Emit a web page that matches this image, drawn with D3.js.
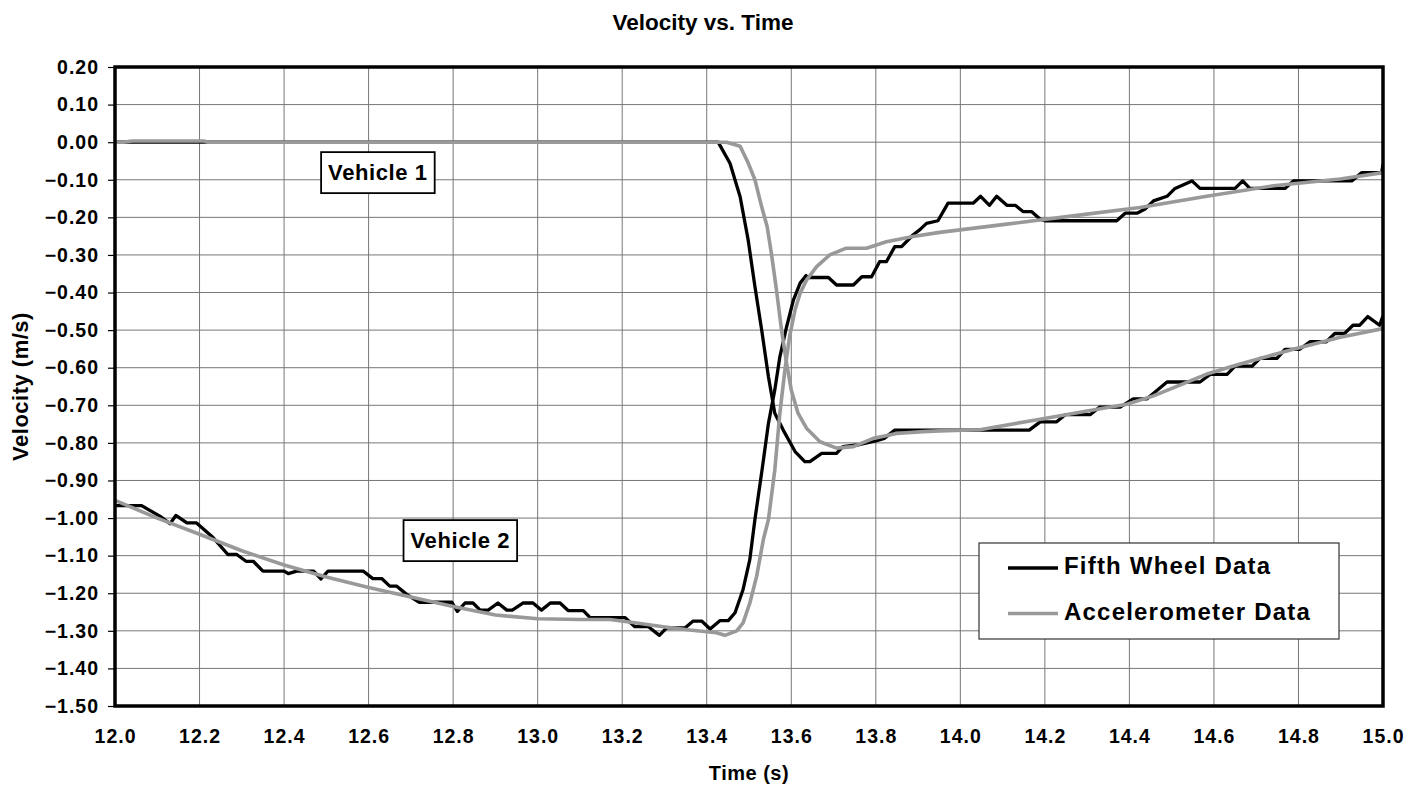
<!DOCTYPE html>
<head>
  <meta charset="utf-8">
  <title>Velocity vs. Time</title>
  <style>
    body { margin: 0; background: #fff; }
    text { font-family: "Liberation Sans", Arial, sans-serif; font-weight: bold; fill: #000; }
  </style>
</head>
<body>
<div id="chart"></div>
<script src="https://d3js.org/d3.v7.min.js"></script>
<script>
// time (s), velocity (m/s)
var fifthWheel1 = [
  [12.0, 0], [13.427, 0], [13.455, -0.056], [13.479, -0.145], [13.498, -0.26], [13.514, -0.384],
  [13.53, -0.50], [13.546, -0.624], [13.561, -0.721], [13.581, -0.766], [13.609, -0.823],
  [13.632, -0.85], [13.644, -0.85], [13.672, -0.828], [13.707, -0.828], [13.722, -0.81],
  [13.76, -0.805], [13.80, -0.795], [13.82, -0.788], [13.845, -0.766], [14.163, -0.766],
  [14.189, -0.744], [14.228, -0.744], [14.248, -0.725], [14.307, -0.725], [14.329, -0.705],
  [14.378, -0.705], [14.409, -0.683], [14.441, -0.683], [14.489, -0.638], [14.567, -0.638],
  [14.591, -0.618], [14.631, -0.618], [14.65, -0.596], [14.69, -0.596], [14.709, -0.575],
  [14.749, -0.575], [14.768, -0.551], [14.803, -0.551], [14.827, -0.531], [14.866, -0.531],
  [14.886, -0.509], [14.909, -0.509], [14.929, -0.487], [14.945, -0.487], [14.964, -0.464],
  [14.992, -0.487], [15.0, -0.462]
];
var fifthWheel2 = [
  [12.0, -0.967], [12.063, -0.967], [12.106, -0.995], [12.13, -1.015], [12.144, -0.993],
  [12.17, -1.013], [12.193, -1.013], [12.232, -1.052], [12.267, -1.097], [12.288, -1.097],
  [12.31, -1.115], [12.327, -1.115], [12.35, -1.141], [12.40, -1.141], [12.41, -1.148],
  [12.43, -1.141], [12.47, -1.141], [12.487, -1.162], [12.504, -1.141], [12.587, -1.141],
  [12.61, -1.161], [12.631, -1.161], [12.65, -1.181], [12.666, -1.181], [12.69, -1.203],
  [12.72, -1.224], [12.797, -1.224], [12.81, -1.248], [12.828, -1.226], [12.847, -1.226],
  [12.864, -1.245], [12.883, -1.245], [12.906, -1.226], [12.927, -1.245], [12.94, -1.245],
  [12.965, -1.226], [12.989, -1.226], [13.009, -1.245], [13.03, -1.226], [13.053, -1.226],
  [13.072, -1.246], [13.108, -1.246], [13.124, -1.265], [13.207, -1.265], [13.23, -1.289],
  [13.262, -1.289], [13.288, -1.312], [13.305, -1.292], [13.349, -1.292], [13.368, -1.274],
  [13.388, -1.274], [13.408, -1.295], [13.431, -1.273], [13.451, -1.273], [13.467, -1.252],
  [13.486, -1.19], [13.502, -1.11], [13.514, -1.004], [13.532, -0.863], [13.546, -0.748],
  [13.561, -0.659], [13.573, -0.571], [13.589, -0.491], [13.605, -0.42], [13.621, -0.375],
  [13.635, -0.355], [13.64, -0.36], [13.688, -0.36], [13.707, -0.38], [13.747, -0.38],
  [13.767, -0.358], [13.79, -0.358], [13.809, -0.318], [13.825, -0.318], [13.845, -0.278],
  [13.861, -0.278], [13.888, -0.247], [13.905, -0.232], [13.92, -0.216], [13.947, -0.209],
  [13.971, -0.162], [14.031, -0.162], [14.048, -0.144], [14.069, -0.168], [14.086, -0.144],
  [14.11, -0.168], [14.13, -0.168], [14.149, -0.185], [14.169, -0.185], [14.189, -0.205],
  [14.2, -0.209], [14.37, -0.209], [14.39, -0.189], [14.418, -0.189], [14.437, -0.178],
  [14.457, -0.156], [14.489, -0.144], [14.508, -0.123], [14.548, -0.103], [14.567, -0.123],
  [14.65, -0.123], [14.668, -0.103], [14.685, -0.123], [14.768, -0.123], [14.788, -0.103],
  [14.926, -0.103], [14.95, -0.081], [14.997, -0.081], [15.0, -0.058]
];
var accel1 = [
  [12.0, 0], [12.02, 0], [12.04, 0.003], [12.21, 0.003], [12.22, 0], [13.447, 0],
  [13.479, -0.011], [13.498, -0.055], [13.514, -0.10], [13.53, -0.172], [13.543, -0.225],
  [13.553, -0.296], [13.565, -0.393], [13.577, -0.50], [13.589, -0.588], [13.60, -0.659],
  [13.616, -0.721], [13.636, -0.761], [13.668, -0.797], [13.707, -0.814], [13.747, -0.81],
  [13.794, -0.788], [13.849, -0.775], [13.912, -0.77], [13.951, -0.768], [14.046, -0.765],
  [14.189, -0.737], [14.3, -0.715], [14.394, -0.697], [14.457, -0.675], [14.583, -0.617],
  [14.662, -0.59], [14.788, -0.551], [14.899, -0.519], [15.0, -0.496]
];
var accel2 = [
  [12.0, -0.953], [12.1, -1.0], [12.2, -1.043], [12.3, -1.087], [12.4, -1.125], [12.5, -1.157],
  [12.6, -1.185], [12.7, -1.21], [12.8, -1.235], [12.9, -1.258], [13.0, -1.268], [13.1, -1.27],
  [13.171, -1.27], [13.234, -1.279], [13.297, -1.289], [13.36, -1.298], [13.423, -1.305],
  [13.443, -1.312], [13.471, -1.30], [13.486, -1.279], [13.502, -1.226], [13.518, -1.155],
  [13.534, -1.057], [13.546, -1.004], [13.561, -0.872], [13.573, -0.721], [13.585, -0.606],
  [13.596, -0.517], [13.609, -0.446], [13.621, -0.402], [13.636, -0.367], [13.66, -0.331],
  [13.691, -0.30], [13.73, -0.282], [13.778, -0.282], [13.825, -0.265], [13.888, -0.251],
  [13.951, -0.24], [14.11, -0.218], [14.266, -0.196], [14.425, -0.174], [14.583, -0.144],
  [14.741, -0.116], [14.899, -0.098], [15.0, -0.081]
];
var xTicks = d3.range(0, 16).map(function(i) { return 12 + i * 0.2; });
var yTicks = d3.range(0, 18).map(function(i) { return -1.5 + i * 0.1; });
var legendNames = ["Fifth Wheel Data", "Accelerometer Data"];
var vehicleLabels = [
  { name: "Vehicle 1", t: 12.622, v: -0.081 },
  { name: "Vehicle 2", t: 12.817, v: -1.06 }
];

var width = 1411, height = 788;
var plotL = 115, plotR = 1383, plotT = 67, plotB = 706;
var font = '"Liberation Sans", Arial, sans-serif';

var svg = d3.select("#chart").append("svg")
  .attr("width", width)
  .attr("height", height);

var x = d3.scaleLinear().domain([12, 15]).range([plotL, plotR]);
var y = d3.scaleLinear().domain([-1.5, 0.2]).range([plotB, plotT]);

// grid
svg.append("g")
  .selectAll("line")
  .data(xTicks)
  .enter().append("line")
  .attr("x1", d => x(d)).attr("x2", d => x(d))
  .attr("y1", plotT).attr("y2", plotB)
  .attr("stroke", "#777").attr("stroke-width", 1);
svg.append("g")
  .selectAll("line")
  .data(yTicks)
  .enter().append("line")
  .attr("x1", plotL).attr("x2", plotR)
  .attr("y1", d => y(d)).attr("y2", d => y(d))
  .attr("stroke", "#777").attr("stroke-width", 1);

// axes
var yAxis = svg.append("g")
  .attr("transform", "translate(" + plotL + ",0)")
  .call(d3.axisLeft(y).tickValues(yTicks).tickSize(7).tickPadding(9)
    .tickFormat(d3.format(".2f")));
yAxis.select(".domain").remove();
yAxis.selectAll("line").attr("stroke", "#000").attr("stroke-width", 1.2);
yAxis.selectAll("text").style("font-size", "19.5px").style("letter-spacing", "1px")
  .style("font-family", font).style("font-weight", "bold");

var xAxis = svg.append("g")
  .attr("transform", "translate(0," + plotB + ")")
  .call(d3.axisBottom(x).tickValues(xTicks).tickSize(0).tickPadding(23)
    .tickFormat(d3.format(".1f")));
xAxis.select(".domain").remove();
xAxis.selectAll("text").style("font-size", "19.5px").style("letter-spacing", "1px")
  .style("font-family", font).style("font-weight", "bold");

// data lines
svg.append("clipPath").attr("id", "clip")
  .append("rect").attr("x", plotL).attr("y", plotT)
  .attr("width", plotR - plotL).attr("height", plotB - plotT);

var line = d3.line().x(d => x(d[0])).y(d => y(d[1]));
var plot = svg.append("g").attr("clip-path", "url(#clip)");
[fifthWheel1, fifthWheel2].forEach(function(s) {
  plot.append("path").datum(s).attr("d", line)
    .attr("fill", "none").attr("stroke", "#000").attr("stroke-width", 3.3)
    .attr("stroke-linejoin", "round");
});
[accel1, accel2].forEach(function(s) {
  plot.append("path").datum(s).attr("d", line)
    .attr("fill", "none").attr("stroke", "#999").attr("stroke-width", 3.6)
    .attr("stroke-linejoin", "round");
});

// frame
svg.append("rect")
  .attr("x", plotL).attr("y", plotT)
  .attr("width", plotR - plotL).attr("height", plotB - plotT)
  .attr("fill", "none").attr("stroke", "#000").attr("stroke-width", 3.5);

// vehicle labels
vehicleLabels.forEach(function(d) {
  var g = svg.append("g");
  var t = g.append("text")
    .attr("x", x(d.t)).attr("y", y(d.v))
    .attr("text-anchor", "middle")
    .attr("dominant-baseline", "central")
    .style("font-size", "22px").style("letter-spacing", "0.6px")
    .text(d.name);
  var bb = t.node().getBBox();
  g.insert("rect", "text")
    .attr("x", bb.x - 7).attr("y", bb.y - 8)
    .attr("width", bb.width + 14).attr("height", bb.height + 16)
    .attr("fill", "#fff").attr("stroke", "#000").attr("stroke-width", 1.8);
});

// legend
var legend = svg.append("g").attr("transform", "translate(979,543)");
legend.append("rect")
  .attr("width", 360).attr("height", 96)
  .attr("fill", "#fff").attr("stroke", "#333").attr("stroke-width", 1.2);
legend.selectAll("line")
  .data(legendNames)
  .enter().append("line")
  .attr("x1", 29).attr("x2", 79)
  .attr("y1", (d, i) => 25 + i * 45.5).attr("y2", (d, i) => 25 + i * 45.5)
  .attr("stroke", (d, i) => i === 0 ? "#000" : "#999").attr("stroke-width", 3.5);
legend.selectAll("text")
  .data(legendNames)
  .enter().append("text")
  .attr("x", 85)
  .attr("y", (d, i) => 31 + i * 45.5)
  .style("font-size", "24px").style("letter-spacing", "1.2px")
  .text(d => d);

// titles
svg.append("text")
  .attr("x", 703).attr("y", 30)
  .attr("text-anchor", "middle")
  .style("font-size", "22.5px")
  .text("Velocity vs. Time");
svg.append("text")
  .attr("x", (plotL + plotR) / 2).attr("y", 780)
  .attr("text-anchor", "middle")
  .style("font-size", "20px").style("letter-spacing", "0.5px")
  .text("Time (s)");
svg.append("text")
  .attr("transform", "translate(28," + ((plotT + plotB) / 2) + ") rotate(-90)")
  .attr("text-anchor", "middle")
  .style("font-size", "22px").style("letter-spacing", "0.5px")
  .text("Velocity (m/s)");
</script>
</body>
